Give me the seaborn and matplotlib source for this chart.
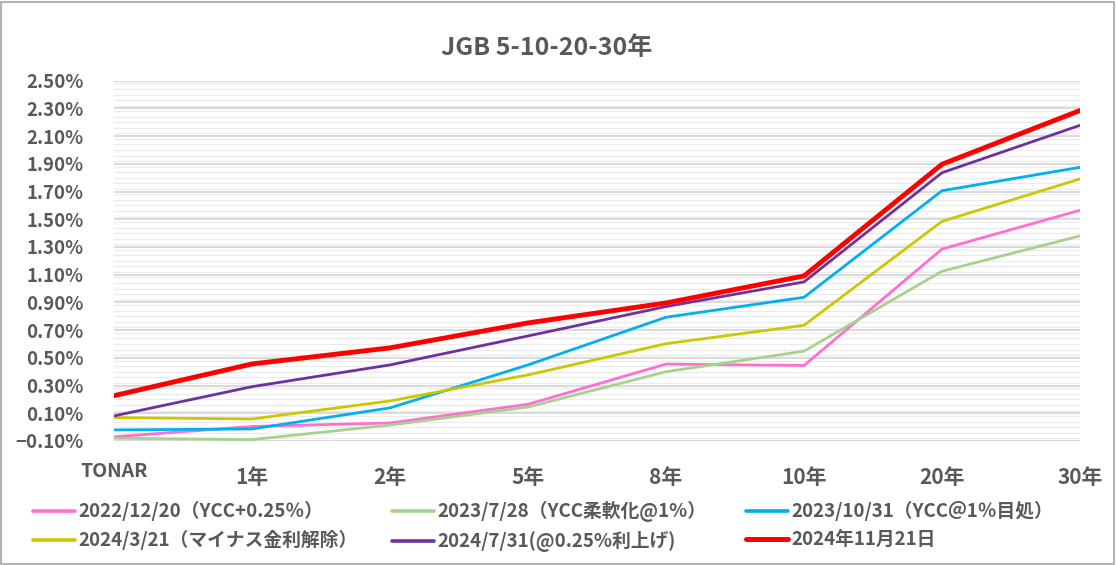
import numpy as np
import pandas as pd
import seaborn as sns
from matplotlib import pyplot as plt
from matplotlib.patches import Rectangle
from matplotlib.ticker import MultipleLocator, PercentFormatter
from matplotlib.transforms import ScaledTranslation

sns.set_theme(style="white")
plt.rcParams["font.family"] = ["Noto Sans CJK JP", "DejaVu Sans"]

# データ
tenors = ["TONAR", "1年", "2年", "5年", "8年", "10年", "20年", "30年"]
labels = [
    "2022/12/20（YCC+0.25％）",
    "2023/7/28（YCC柔軟化@1%）",
    "2023/10/31（YCC＠1％目処）",
    "2024/3/21（マイナス金利解除）",
    "2024/7/31(@0.25%利上げ)",
    "2024年11月21日",
]
y_20221220 = [-0.07, 0.005, 0.03, 0.165, 0.455, 0.445, 1.285, 1.565]
y_20230728 = [-0.08, -0.09, 0.015, 0.145, 0.40, 0.548, 1.125, 1.38]
y_20231031 = [-0.02, -0.013, 0.139, 0.449, 0.793, 0.937, 1.706, 1.875]
y_20240321 = [0.069, 0.059, 0.189, 0.377, 0.602, 0.735, 1.485, 1.791]
y_20240731 = [0.081, 0.292, 0.449, 0.658, 0.87, 1.048, 1.836, 2.178]
y_20241121 = [0.227, 0.456, 0.572, 0.752, 0.896, 1.091, 1.897, 2.285]
series = [y_20221220, y_20230728, y_20231031, y_20240321, y_20240731, y_20241121]

colors = ["#FF6FCF", "#A9D18E", "#00B0F0", "#CCC700", "#7030A0", "#FF0000"]
widths = [2.0, 2.0, 2.0, 2.0, 2.0, 3.5]

df = pd.DataFrame(
    {
        "x": np.tile(np.arange(len(tenors)), len(labels)),
        "yield": np.concatenate(series),
        "series": np.repeat(labels, len(tenors)),
    }
)

W, H = 1116, 565
fig = plt.figure(figsize=(W / 100, H / 100), dpi=100)
ax = fig.add_axes([114 / W, 1 - 441 / H, 966 / W, 360.3 / H])

for lab, c, lw in zip(labels, colors, widths):
    sns.lineplot(
        data=df[df["series"] == lab], x="x", y="yield",
        color=c, linewidth=lw, label=lab, ax=ax, zorder=3,
    )

gray = "#595959"
ax.set_xlim(0, len(tenors) - 1)
ax.set_ylim(-0.1, 2.5)
ax.set_yticks(np.arange(-0.1, 2.51, 0.2))
ax.yaxis.set_major_formatter(PercentFormatter(decimals=2))
ax.yaxis.set_minor_locator(MultipleLocator(0.04))
ax.set_xticks(range(len(tenors)))
ax.set_xticklabels(tenors)
ax.grid(True, which="major", axis="y", color="#D9D9D9", linewidth=1.4)
ax.grid(True, which="minor", axis="y", color="#EBEBEB", linewidth=0.9)
ax.grid(False, axis="x")
ax.set_axisbelow(True)
for s in ax.spines.values():
    s.set_visible(False)
ax.tick_params(axis="y", length=0, pad=22, labelsize=13.4, labelcolor=gray)
ax.tick_params(axis="x", length=0, pad=19, labelsize=15, labelcolor=gray)
for t in ax.get_xticklabels() + ax.get_yticklabels():
    t.set_fontweight("bold")
ax.set_xlabel("")
ax.set_ylabel("")

# TONARだけ少し上に表示
tonar = ax.xaxis.get_major_ticks()[0].label1
tonar.set_fontsize(14)
tonar.set_transform(tonar.get_transform()
                    + ScaledTranslation(0, 5 / 100, fig.dpi_scale_trans))

fig.suptitle("JGB 5-10-20-30年", x=547 / W, y=1 - 48 / H, va="center",
             fontsize=18, fontweight="bold", color=gray)

# 凡例 (3列, Excel風に行方向の並び)
handles, labs = ax.get_legend_handles_labels()
ax.get_legend().remove()
col_x = [33, 392, 746]
for j, x0 in enumerate(col_x):
    idx = [j, j + 3]
    leg = fig.legend(
        [handles[i] for i in idx], [labs[i] for i in idx],
        loc="upper left", bbox_to_anchor=(x0 / W, 1 - 501 / H),
        frameon=False, borderpad=0, borderaxespad=0,
        handlelength=2.25, handletextpad=0.15, labelspacing=0.48,
        prop={"size": 13.5, "weight": "bold"},
    )
    for t in leg.get_texts():
        t.set_color(gray)
    for h, i in zip(leg.get_lines(), idx):
        h.set_linewidth(3.6 if i == 5 else 2.6)

fig.patches.append(
    Rectangle((0.001, 0.002), 0.997, 0.995, transform=fig.transFigure,
              fill=False, edgecolor="#A6A6A6", linewidth=1.2)
)

fig.savefig("out.png", dpi=100)
